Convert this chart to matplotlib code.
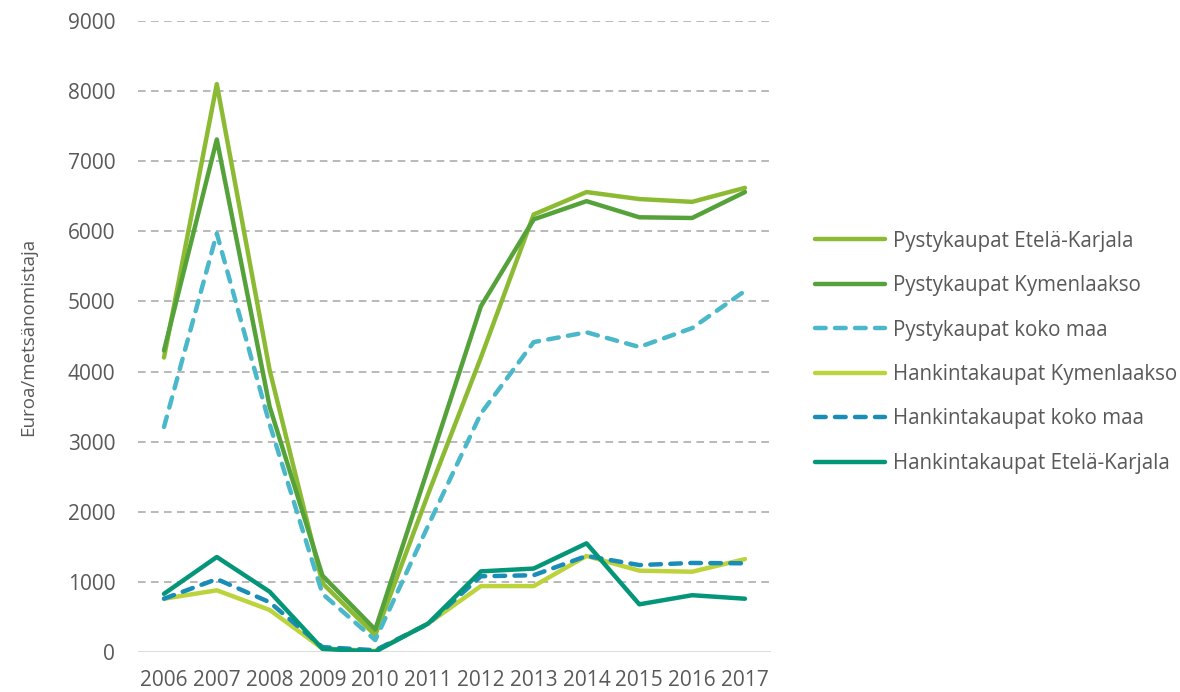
import numpy as np
import matplotlib
matplotlib.use("Agg")
import matplotlib.pyplot as plt

# vuodet ja sarjat (luettu kuvasta)
years = ["2006", "2007", "2008", "2009", "2010", "2011",
         "2012", "2013", "2014", "2015", "2016", "2017"]
pysty_ek = [4200, 8100, 4020, 980, 240, 2250, 4200, 6240, 6560, 6460, 6420, 6620]
pysty_kym = [4300, 7310, 3500, 1090, 320, 2620, 4930, 6170, 6430, 6200, 6190, 6560]
pysty_koko = [3210, 5970, 3250, 830, 170, 1800, 3400, 4420, 4560, 4350, 4620, 5150]
hank_kym = [760, 880, 600, 50, 15, 405, 940, 940, 1370, 1160, 1145, 1325]
hank_koko = [760, 1040, 710, 70, 25, 400, 1080, 1095, 1370, 1240, 1270, 1265]
hank_ek = [830, 1355, 860, 45, 5, 405, 1150, 1190, 1550, 680, 810, 760]

series = [
    ("Pystykaupat Etelä-Karjala", pysty_ek, "#8cbb33", "-"),
    ("Pystykaupat Kymenlaakso", pysty_kym, "#56a23a", "-"),
    ("Pystykaupat koko maa", pysty_koko, "#4bb8c9", "--"),
    ("Hankintakaupat Kymenlaakso", hank_kym, "#bdd33b", "-"),
    ("Hankintakaupat koko maa", hank_koko, "#1a8cb8", "--"),
    ("Hankintakaupat Etelä-Karjala", hank_ek, "#05967a", "-"),
]

plt.rcParams['font.family'] = ['Open Sans', 'DejaVu Sans']
text_col = "#595959"

fig = plt.figure(figsize=(11.8, 6.92), dpi=100)
ax = fig.add_axes([0.1166, 0.0578, 0.5371, 0.9119])

x = np.arange(len(years))
for name, vals, col, ls in series:
    line, = ax.plot(x, vals, color=col, lw=3.2, label=name,
                    solid_capstyle='round', dash_capstyle='round')
    if ls == "--":
        line.set_dashes([2.4, 2.1])

ax.set_xlim(-0.5, len(years) - 0.5)
ax.set_ylim(0, 9000)
ax.set_yticks(np.arange(0, 9001, 1000))
ax.set_xticks(x)
ax.set_xticklabels(years)

for v in range(1000, 9001, 1000):
    ax.axhline(v, color="#a6a6a6", lw=1.1, dashes=(5, 3.5), zorder=0)
ax.axhline(0, color="#d9d9d9", lw=1.3, zorder=0)

for s in ax.spines.values():
    s.set_visible(False)
ax.tick_params(length=0, labelsize=15, labelcolor=text_col)
ax.tick_params(axis='y', pad=16)
ax.tick_params(axis='x', pad=13)

ax.set_ylabel("Euroa/metsänomistaja", fontsize=13.5, color=text_col, labelpad=22)

fig.legend(loc="center left", bbox_to_anchor=(0.6907, 0.491), frameon=False,
           fontsize=14.8, labelcolor=text_col, handlelength=3.4,
           handletextpad=0.4, labelspacing=1.14, borderpad=0, borderaxespad=0)

fig.savefig("out.png", dpi=100)
